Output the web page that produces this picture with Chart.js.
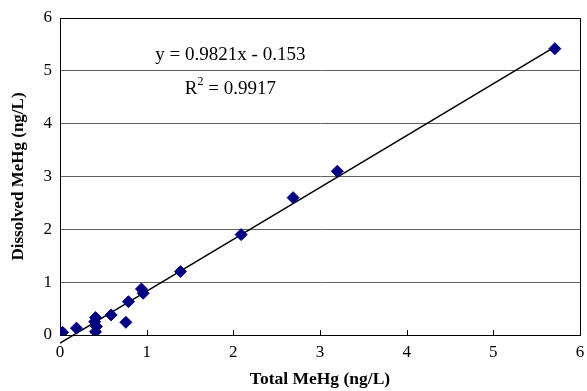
<!DOCTYPE html>
<html>
<head>
<meta charset="utf-8">
<script src="https://cdn.jsdelivr.net/npm/chart.js@4/dist/chart.umd.min.js"></script>
<style>
html,body{margin:0;padding:0;background:#fff;}
#wrap{width:587px;height:391px;}
</style>
</head>
<body>
<div id="wrap"><canvas id="c" width="587" height="391"></canvas></div>
<script>
// Data
const totalMeHg =     [5.71, 3.20, 2.69, 2.09, 1.39, 0.94, 0.96, 0.79, 0.76, 0.59, 0.41, 0.40, 0.42, 0.41, 0.19, 0.03, 0.01];
const dissolvedMeHg = [5.42, 3.10, 2.60, 1.90, 1.20, 0.87, 0.79, 0.63, 0.24, 0.38, 0.33, 0.25, 0.16, 0.06, 0.13, 0.05, 0.00];
const trendX = [0, 5.71];
const trendY = [-0.153, 5.455];
const xTicks = [0, 1, 2, 3, 4, 5, 6];
const yTicks = [0, 1, 2, 3, 4, 5, 6];
const equationText = "y = 0.9821x - 0.153";
const r2Label = "R";
const r2Value = " = 0.9917";
const xTitle = "Total MeHg (ng/L)";
const yTitle = "Dissolved MeHg (ng/L)";

const FONT = "'Liberation Serif', 'Times New Roman', serif";

const points = totalMeHg.map((x, i) => ({x: x, y: dissolvedMeHg[i]}));
const trend = trendX.map((x, i) => ({x: x, y: trendY[i]}));

const framePlugin = {
  id: 'frame',
  beforeDatasetsDraw(chart) {
    const {ctx, chartArea: a, scales} = chart;
    ctx.save();
    ctx.strokeStyle = '#000';
    ctx.lineWidth = 1;
    ctx.strokeRect(Math.round(a.left) + 0.5, Math.round(a.top) + 0.5, Math.round(a.right - a.left), Math.round(a.bottom - a.top));
    // inside tick marks on x axis
    ctx.beginPath();
    xTicks.forEach(v => {
      const px = Math.round(scales.x.getPixelForValue(v)) + 0.5;
      ctx.moveTo(px, a.bottom);
      ctx.lineTo(px, a.bottom - 5);
    });
    ctx.stroke();
    ctx.restore();
  },
  afterDraw(chart) {
    const {ctx, scales} = chart;
    ctx.save();
    ctx.fillStyle = '#000';
    ctx.textBaseline = 'middle';
    ctx.textAlign = 'left';
    ctx.font = "19px " + FONT;
    const ex = scales.x.getPixelForValue(1.1);
    ctx.fillText(equationText, ex, scales.y.getPixelForValue(5.3));
    const rx = scales.x.getPixelForValue(1.44);
    const ry = scales.y.getPixelForValue(4.66);
    ctx.fillText(r2Label, rx, ry);
    const rw = ctx.measureText(r2Label).width;
    ctx.font = "12px " + FONT;
    ctx.fillText("2", rx + rw, ry - 7);
    const sw = ctx.measureText("2").width;
    ctx.font = "19px " + FONT;
    ctx.fillText(r2Value, rx + rw + sw, ry);
    ctx.restore();
  }
};

new Chart(document.getElementById('c'), {
  type: 'scatter',
  data: {
    datasets: [
      {
        type: 'scatter',
        data: points,
        pointStyle: 'rectRot',
        pointRadius: 6,
        pointHoverRadius: 6,
        backgroundColor: '#000080',
        borderColor: '#000080',
        borderWidth: 1,
        order: 0
      },
      {
        type: 'line',
        data: trend,
        borderColor: '#000',
        borderWidth: 1.5,
        pointRadius: 0,
        fill: false,
        clip: false,
        order: 1
      }
    ]
  },
  plugins: [framePlugin],
  options: {
    responsive: false,
    animation: false,
    events: [],
    layout: {padding: {top: 18, right: 3, left: 0, bottom: 0}},
    plugins: {legend: {display: false}, tooltip: {enabled: false}},
    scales: {
      x: {
        type: 'linear',
        min: 0, max: 6,
        afterBuildTicks: s => { s.ticks = xTicks.map(v => ({value: v})); },
        afterFit: s => { s.height = 56; s.paddingRight = 0; s.paddingLeft = 0; },
        grid: {display: true, drawOnChartArea: false, drawTicks: false},
        border: {display: true, color: '#000', width: 1},
        ticks: {color: '#000', font: {family: FONT, size: 17}, padding: 7, maxRotation: 0},
        title: {display: true, text: xTitle, color: '#000', font: {family: FONT, size: 17.5, weight: 'bold'}, padding: {top: 2, bottom: 1}}
      },
      y: {
        type: 'linear',
        min: 0, max: 6,
        afterBuildTicks: s => { s.ticks = yTicks.map(v => ({value: v})); },
        afterFit: s => { s.width = 60; s.paddingTop = 0; s.paddingBottom = 0; },
        grid: {display: true, color: '#606060', lineWidth: 1, drawTicks: false},
        border: {display: true, color: '#000', width: 1},
        ticks: {color: '#000', font: {family: FONT, size: 17}, padding: 8},
        title: {display: true, text: yTitle, color: '#000', font: {family: FONT, size: 17, weight: 'bold'}, padding: {top: 8, bottom: 4}}
      }
    }
  }
});
</script>
</body>
</html>
